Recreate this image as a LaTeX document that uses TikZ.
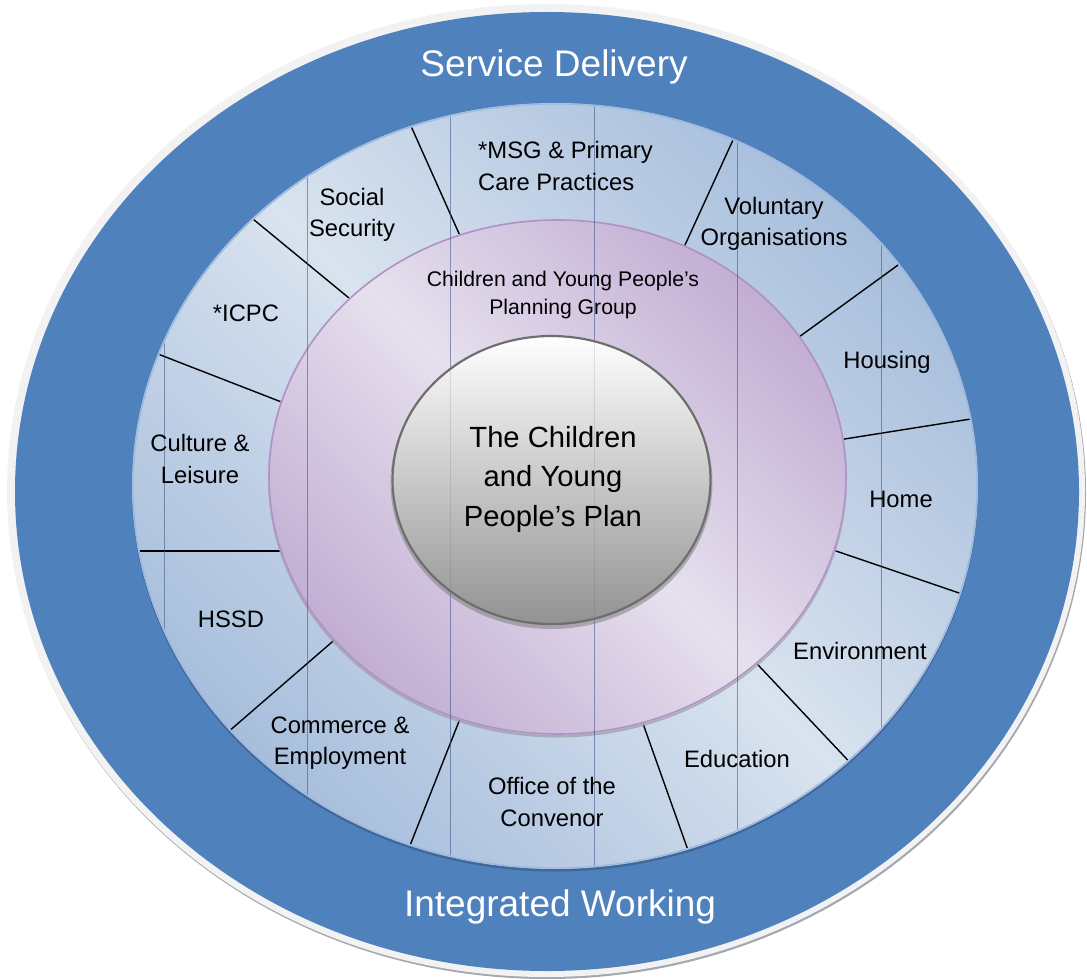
\documentclass[tikz,border=0pt]{standalone}
\usepackage{fontspec}
\setmainfont{Liberation Sans}
\definecolor{bandblue}{HTML}{4F81BD}
\definecolor{rimgrey}{HTML}{F2F2F2}
\definecolor{rimshadow}{HTML}{A3A8B0}
\definecolor{ringlight}{HTML}{D9E3EF}
\definecolor{ringdark}{HTML}{A7BEDC}
\definecolor{ringedge}{HTML}{9DB9DF}
\definecolor{ringbevel}{HTML}{3F679B}
\definecolor{lilaclight}{HTML}{E6E0EE}
\definecolor{lilacdark}{HTML}{C2AED3}
\definecolor{lilacedge}{HTML}{AD93C6}
\definecolor{plateshadow}{HTML}{9C9CA6}
\definecolor{discedge}{HTML}{6E6E6E}
\definecolor{disctop}{HTML}{FFFFFF}
\definecolor{discmid}{HTML}{E0E0E0}
\definecolor{discbot}{HTML}{929292}
\definecolor{gridnavy}{HTML}{3C4F80}
\begin{document}
\begin{tikzpicture}[x=1pt,y=-1pt,
  seglabel/.style={font=\fontsize{23.8}{31.5}\selectfont, align=center, inner sep=0pt, text=black},
  grouplabel/.style={font=\fontsize{21.2}{28}\selectfont, align=center, inner sep=0pt, text=black},
  planlabel/.style={font=\fontsize{29.2}{39.5}\selectfont, align=center, inner sep=0pt, text=black},
  bandlabel/.style={font=\fontsize{37}{44}\selectfont, text=white, inner sep=0pt},
  divider/.style={draw=black, line width=1.4pt, shorten <=-8pt, shorten >=-8pt},
  gridline/.style={draw=gridnavy, line width=0.7pt, opacity=0.55},
]
\useasboundingbox (0,0) rectangle (1087,979);

% outer band with its light rim and drop shadow
\fill[rimshadow] (547,492.5) ellipse [x radius=539pt, y radius=486.5pt];
\fill[rimgrey] (546,490.5) ellipse [x radius=539pt, y radius=486.5pt];
\fill[bandblue] (547,491.5) ellipse [x radius=532pt, y radius=479.5pt];

% segmented ring of partner services
\fill[ringbevel] (555,488.5) ellipse [x radius=423pt, y radius=383pt];
\shade[top color=ringdark, bottom color=ringdark, middle color=ringlight, shading angle=-45]
  (555,486) ellipse [x radius=423pt, y radius=383pt];
\draw[ringedge, line width=1.3pt] (555,486) ellipse [x radius=422pt, y radius=382pt];

% end points of the segment dividers
\coordinate (a1) at (460.7,237.3); \coordinate (a2) at (410.5,125);
\coordinate (b1) at (686.5,241.7); \coordinate (b2) at (733,140);
\coordinate (c1) at (804.1,333.3); \coordinate (c2) at (900.4,263.3);
\coordinate (d1) at (844.6,439);   \coordinate (d2) at (979,417.7);
\coordinate (e1) at (836,551);     \coordinate (e2) at (965,595);
\coordinate (f1) at (760,667);     \coordinate (f2) at (850.5,763);
\coordinate (g1) at (646,732);     \coordinate (g2) at (686.5,846);
\coordinate (h1) at (460.7,717);   \coordinate (h2) at (409.8,846);
\coordinate (i1) at (330.9,643);   \coordinate (i2) at (224.6,735);
\coordinate (j1) at (280.7,551);   \coordinate (j2) at (131.6,551);
\coordinate (k1) at (280.7,401.7); \coordinate (k2) at (157.9,354);
\coordinate (l1) at (352.6,301);   \coordinate (l2) at (250.9,217.3);

\begin{scope}
  \clip (555,486) ellipse [x radius=421pt, y radius=381pt];
  \foreach \s in {a,b,c,d,e,f,g,h,i,j,k,l}
    \draw[divider] (\s1) -- (\s2);
\end{scope}

% planning group ellipse
\fill[plateshadow, opacity=0.7] (557.5,479.5) ellipse [x radius=289.5pt, y radius=258pt];
\shade[top color=lilacdark, bottom color=lilacdark, middle color=lilaclight, shading angle=-45]
  (557.5,477) ellipse [x radius=289.5pt, y radius=258pt];
\draw[lilacedge, line width=1.6pt] (557.5,477) ellipse [x radius=288.5pt, y radius=257pt];

% faint vertical grid lines across the inner rings
\begin{scope}
  \clip (555,486) ellipse [x radius=421pt, y radius=381pt];
  \foreach \gx in {164,307.4,450.8,594.2,737.6,881}
    \draw[gridline] (\gx,100) -- (\gx,875);
\end{scope}

% central plan disc
\fill[gray, opacity=0.55] (551.5,483) ellipse [x radius=161pt, y radius=146pt];
\shade[top color=disctop, middle color=discmid, bottom color=discbot]
  (551.5,480) ellipse [x radius=160pt, y radius=145pt];
\draw[discedge, line width=2.2pt] (551.5,480) ellipse [x radius=159pt, y radius=144pt];
\begin{scope}
  \clip (551.5,480) ellipse [x radius=158pt, y radius=143pt];
  \foreach \gx in {450.8,594.2}
    \draw[gridline, opacity=0.15] (\gx,330) -- (\gx,630);
\end{scope}

% band titles
\node[bandlabel] (delivery) at (554,67) {Service Delivery};
\node[bandlabel] (working) at (560,907) {Integrated Working};

% service segments
\node[seglabel, align=left, anchor=west] (msg) at (478,166) {*MSG \& Primary\\Care Practices};
\node[seglabel] (voluntary) at (774,224) {Voluntary\\Organisations};
\node[seglabel] (housing) at (887,362) {Housing};
\node[seglabel] (home) at (901,499) {Home};
\node[seglabel] (environment) at (860,651) {Environment};
\node[seglabel] (education) at (737,759) {Education};
\node[seglabel] (convenor) at (552,802) {Office of the\\Convenor};
\node[seglabel] (commerce) at (340,743) {Commerce \&\\Employment};
\node[seglabel] (hssd) at (231,619) {HSSD};
\node[seglabel] (culture) at (200,459) {Culture \&\\Leisure};
\node[seglabel] (icpc) at (246,313) {*ICPC};
\node[seglabel] (social) at (352,215) {Social\\Security};

% planning group and plan
\node[grouplabel] (group) at (563,295) {Children and Young People’s\\Planning Group};
\node[planlabel] (plan) at (553,479) {The Children\\and Young\\People’s Plan};
\end{tikzpicture}
\end{document}
